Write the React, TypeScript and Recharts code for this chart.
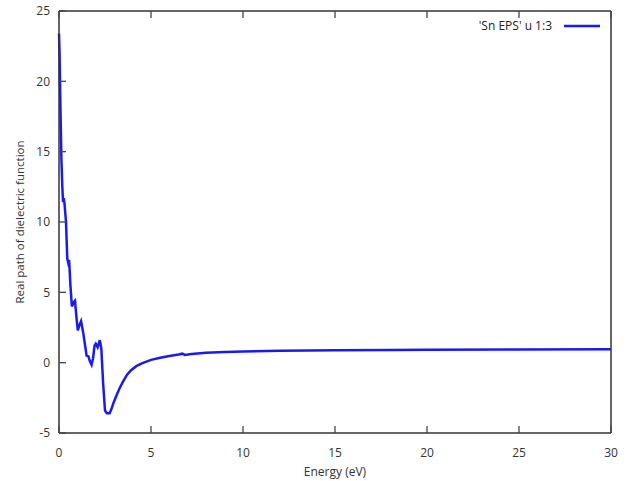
import React from "react";
import { LineChart, Line, XAxis, YAxis } from "recharts";

const energy = [0, 0.03, 0.08, 0.13, 0.18, 0.22, 0.26, 0.3, 0.38, 0.45, 0.5, 0.55, 0.62, 0.7, 0.8, 0.87, 0.95, 1.02, 1.12, 1.2, 1.32, 1.42, 1.5, 1.6, 1.68, 1.77, 1.85, 1.93, 2.0, 2.1, 2.22, 2.3, 2.4, 2.5, 2.6, 2.75, 2.85, 2.95, 3.1, 3.3, 3.5, 3.7, 3.9, 4.2, 4.5, 5.0, 5.5, 6.0, 6.5, 6.7, 6.85, 7.2, 8, 9, 10, 12, 15, 18, 20, 25, 30];
const epsReal = [23.4, 22, 18, 14.5, 12.5, 11.4, 11.7, 11.3, 10, 7.4, 7.1, 7.3, 5.5, 4.0, 4.3, 4.4, 3.2, 2.3, 2.7, 2.95, 2.1, 1.2, 0.5, 0.45, 0.1, -0.15, 0.3, 1.2, 1.35, 1.1, 1.6, 1.0, -1.5, -3.4, -3.6, -3.6, -3.3, -2.9, -2.4, -1.8, -1.3, -0.85, -0.55, -0.25, -0.05, 0.2, 0.35, 0.47, 0.58, 0.64, 0.55, 0.62, 0.7, 0.76, 0.8, 0.85, 0.88, 0.9, 0.91, 0.93, 0.95];
const xTicks = [0, 5, 10, 15, 20, 25, 30];
const yTicks = [-5, 0, 5, 10, 15, 20, 25];
const seriesName = "'Sn EPS' u 1:3";

const data = energy.map((e, i) => ({ e, v: epsReal[i] }));

const FONT = "'Open Sans', 'DejaVu Sans', sans-serif";
const AXIS = "#333333";
const TICK_COLOR = "#444444";
const BLUE = "#1a1aee";
const TICK_LEN = 7;
const X_MARGIN = 15;
const Y_MARGIN = 9;

const BottomTick = (props: any) => {
  const { x, y, payload } = props;
  const axisY = y - X_MARGIN;
  return (
    <g>
      <line x1={x} x2={x} y1={axisY} y2={axisY - TICK_LEN} stroke={TICK_COLOR} strokeWidth={1.3} />
      <text x={x} y={y} dy="0.71em" textAnchor="middle" fill="#333" fontSize={12} fontFamily={FONT}>
        {payload.value}
      </text>
    </g>
  );
};

const LeftTick = (props: any) => {
  const { x, y, payload } = props;
  const axisX = x + Y_MARGIN;
  return (
    <g>
      <line x1={axisX} x2={axisX + TICK_LEN} y1={y} y2={y} stroke={TICK_COLOR} strokeWidth={1.3} />
      <text x={x} y={y} dy="0.355em" textAnchor="end" fill="#333" fontSize={12} fontFamily={FONT}>
        {payload.value}
      </text>
    </g>
  );
};

const TopTick = (props: any) => {
  const { x, y } = props;
  return <line x1={x} x2={x} y1={y} y2={y + TICK_LEN} stroke={TICK_COLOR} strokeWidth={1.3} />;
};

const RightTick = (props: any) => {
  const { x, y } = props;
  return <line x1={x} x2={x - TICK_LEN} y1={y} y2={y} stroke={TICK_COLOR} strokeWidth={1.3} />;
};

export default function App() {
  return (
    <div style={{ position: "absolute", left: 0, top: 0, width: 627, height: 481, background: "#fff" }}>
      <LineChart width={627} height={481} data={data} margin={{ top: 11, right: 16, bottom: 0, left: 0 }}>
        <XAxis
          dataKey="e"
          type="number"
          domain={[0, 30]}
          ticks={xTicks}
          xAxisId="b"
          height={48}
          stroke={AXIS}
          strokeWidth={1.5}
          tickLine={false}
          tickSize={0}
          tickMargin={X_MARGIN}
          tick={BottomTick}
          label={{ value: "Energy (eV)", position: "insideBottom", offset: 5, fill: "#333", fontSize: 12, fontFamily: FONT }}
        />
        <XAxis
          dataKey="e"
          type="number"
          domain={[0, 30]}
          ticks={xTicks}
          xAxisId="t"
          orientation="top"
          height={1}
          mirror
          stroke={AXIS}
          strokeWidth={1.5}
          tickLine={false}
          tickSize={0}
          tickMargin={0}
          tick={TopTick}
        />
        <YAxis
          yAxisId="l"
          type="number"
          domain={[-5, 25]}
          ticks={yTicks}
          width={59}
          stroke={AXIS}
          strokeWidth={1.5}
          tickLine={false}
          tickSize={0}
          tickMargin={Y_MARGIN}
          tick={LeftTick}
          label={{ value: "Real path of dielectric function", angle: -90, position: "insideLeft", offset: 20, fill: "#333", fontSize: 11.5, fontFamily: FONT, style: { textAnchor: "middle" } }}
        />
        <YAxis
          yAxisId="r"
          orientation="right"
          type="number"
          domain={[-5, 25]}
          ticks={yTicks}
          width={1}
          mirror
          stroke={AXIS}
          strokeWidth={1.5}
          tickLine={false}
          tickSize={0}
          tickMargin={0}
          tick={RightTick}
        />
        <Line
          xAxisId="b"
          yAxisId="l"
          type="linear"
          dataKey="v"
          name={seriesName}
          stroke={BLUE}
          strokeWidth={2.5}
          dot={false}
          isAnimationActive={false}
        />
      </LineChart>
      <div
        style={{
          position: "absolute",
          top: 17,
          right: 23,
          display: "flex",
          alignItems: "center",
          fontFamily: FONT,
          fontSize: 12,
          color: "#222",
        }}
      >
        <span>{seriesName}</span>
        <svg width={44} height={10} style={{ marginLeft: 8 }}>
          <line x1={4} y1={5} x2={40} y2={5} stroke={BLUE} strokeWidth={2.5} />
        </svg>
      </div>
    </div>
  );
}
